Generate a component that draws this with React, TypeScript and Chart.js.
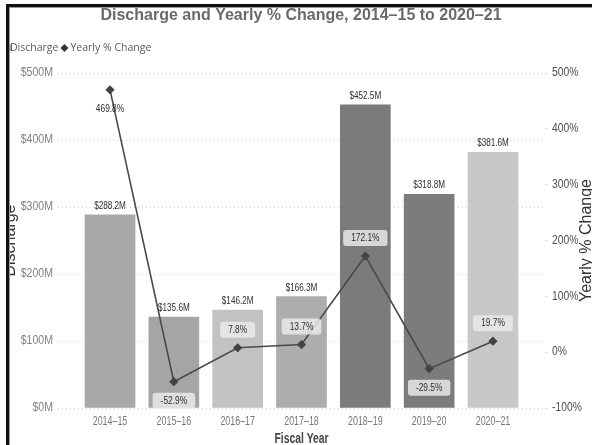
import React, { useEffect, useRef } from "react";
import { Chart, registerables } from "chart.js";

Chart.register(...registerables);

const categories = ["2014–15", "2015–16", "2016–17", "2017–18", "2018–19", "2019–20", "2020–21"];
const discharge = [288.2, 135.6, 146.2, 166.3, 452.5, 318.8, 381.6];
const yearlyChange = [469.8, -52.9, 7.8, 13.7, 172.1, -29.5, 19.7];
const barColors = ["#a9a9a9", "#a5a5a5", "#c2c2c2", "#adadad", "#7b7b7b", "#7c7c7c", "#c8c8c8"];
const leftTicks = [0, 100, 200, 300, 400, 500];
const rightTicks = [-100, 0, 100, 200, 300, 400, 500];

const SANS = '"Liberation Sans", Arial, sans-serif';

function roundRect(ctx: CanvasRenderingContext2D, x: number, y: number, w: number, h: number, r: number) {
  ctx.beginPath();
  ctx.moveTo(x + r, y);
  ctx.lineTo(x + w - r, y);
  ctx.quadraticCurveTo(x + w, y, x + w, y + r);
  ctx.lineTo(x + w, y + h - r);
  ctx.quadraticCurveTo(x + w, y + h, x + w - r, y + h);
  ctx.lineTo(x + r, y + h);
  ctx.quadraticCurveTo(x, y + h, x, y + h - r);
  ctx.lineTo(x, y + r);
  ctx.quadraticCurveTo(x, y, x + r, y);
  ctx.closePath();
}

function narrowText(ctx: CanvasRenderingContext2D, text: string, x: number, y: number, align: CanvasTextAlign, sx: number) {
  ctx.save();
  ctx.translate(x, y);
  ctx.scale(sx, 1);
  ctx.textAlign = align;
  ctx.textBaseline = "middle";
  ctx.fillText(text, 0, 0);
  ctx.restore();
}

const decorPlugin = {
  id: "decor",
  afterDatasetsDraw(chart: any) {
    const ctx: CanvasRenderingContext2D = chart.ctx;
    const barMeta = chart.getDatasetMeta(0);
    const lineMeta = chart.getDatasetMeta(1);
    ctx.save();
    ctx.font = `11px ${SANS}`;
    ctx.fillStyle = "#2e2e2e";
    barMeta.data.forEach((el: any, i: number) => {
      narrowText(ctx, `$${discharge[i].toFixed(1)}M`, el.x, el.y - 9, "center", 0.74);
    });
    lineMeta.data.forEach((pt: any, i: number) => {
      const v = yearlyChange[i];
      const below = v < 0 || pt.y < chart.chartArea.top + 40;
      const ly = below ? pt.y + 19 : pt.y - 18;
      const txt = `${v.toFixed(1)}%`;
      const barTop = barMeta.data[i].y;
      if (ly > barTop) {
        const w = ctx.measureText(txt).width * 0.76 + 16;
        ctx.fillStyle = "rgba(236,236,236,0.82)";
        roundRect(ctx, pt.x - w / 2, ly - 8, w, 16, 3);
        ctx.fill();
      }
      ctx.fillStyle = "#2e2e2e";
      narrowText(ctx, txt, pt.x, ly, "center", 0.76);
    });
    ctx.restore();
  },
  afterDraw(chart: any) {
    const ctx: CanvasRenderingContext2D = chart.ctx;
    const ca = chart.chartArea;
    const midY = (ca.top + ca.bottom) / 2;
    const xS = chart.scales.x;
    const yS = chart.scales.y;
    const y1S = chart.scales.y1;
    ctx.save();
    // tick labels
    ctx.font = `12px ${SANS}`;
    ctx.fillStyle = "#777";
    categories.forEach((c, i) => {
      narrowText(ctx, c, xS.getPixelForValue(i), xS.top + 14, "center", 0.74);
    });
    ctx.fillStyle = "#808080";
    leftTicks.forEach((v) => {
      narrowText(ctx, `$${v}M`, yS.right - 5, yS.getPixelForValue(v), "right", 0.88);
    });
    ctx.fillStyle = "#4d4d4d";
    rightTicks.forEach((v) => {
      narrowText(ctx, `${v}%`, y1S.left + 7, y1S.getPixelForValue(v), "left", 0.86);
    });
    // title
    ctx.font = `bold 16px ${SANS}`;
    ctx.fillStyle = "#6a6a6a";
    ctx.textAlign = "center";
    ctx.textBaseline = "middle";
    ctx.fillText("Discharge and Yearly % Change, 2014–15 to 2020–21", 301, 16);
    // legend
    ctx.font = `10.5px "Open Sans", sans-serif`;
    ctx.textAlign = "left";
    ctx.beginPath();
    ctx.arc(8, 48, 4, 0, Math.PI * 2);
    ctx.fillStyle = "#9a9a9a";
    ctx.fill();
    ctx.fillStyle = "#5a5a5a";
    ctx.fillText("Discharge", 10, 48);
    const dx = 10 + ctx.measureText("Discharge").width + 6;
    ctx.beginPath();
    ctx.moveTo(dx, 44);
    ctx.lineTo(dx + 4, 48);
    ctx.lineTo(dx, 52);
    ctx.lineTo(dx - 4, 48);
    ctx.closePath();
    ctx.fillStyle = "#333";
    ctx.fill();
    ctx.fillStyle = "#5a5a5a";
    ctx.fillText("Yearly % Change", dx + 6, 48);
    // x axis title
    ctx.font = `bold 14px ${SANS}`;
    ctx.fillStyle = "#444";
    narrowText(ctx, "Fiscal Year", (ca.left + ca.right) / 2, 439, "center", 0.74);
    // left axis title
    ctx.font = `16px ${SANS}`;
    ctx.fillStyle = "#333";
    ctx.textAlign = "center";
    ctx.save();
    ctx.translate(11, midY);
    ctx.rotate(-Math.PI / 2);
    ctx.fillText("Discharge", 0, 0);
    ctx.restore();
    // right axis title
    ctx.save();
    ctx.translate(587, midY);
    ctx.rotate(-Math.PI / 2);
    ctx.fillText("Yearly % Change", 0, 0);
    ctx.restore();
    // frame
    ctx.fillStyle = "#ffffff";
    ctx.fillRect(0, 0, 6, chart.height);
    ctx.fillRect(0, 0, chart.width, 4);
    ctx.fillStyle = "#111";
    ctx.fillRect(6, 4, 3, chart.height - 4);
    ctx.fillRect(6, 4, chart.width - 6, 3);
    ctx.fillStyle = "#9a9a9a";
    ctx.fillRect(9, 7, 1, chart.height - 7);
    ctx.fillRect(9, 7, chart.width - 9, 1);
    ctx.restore();
  },
};

export default function App() {
  const ref = useRef<HTMLCanvasElement>(null);
  useEffect(() => {
    document.body.style.margin = "0";
    const chart = new Chart(ref.current!, {
      type: "bar",
      data: {
        datasets: [
          {
            type: "bar",
            label: "Discharge",
            data: discharge.map((v, i) => ({ x: i, y: v })),
            backgroundColor: barColors,
            barThickness: 50,
            yAxisID: "y",
            order: 1,
          },
          {
            type: "line",
            label: "Yearly % Change",
            data: yearlyChange.map((v, i) => ({ x: i, y: v })),
            borderColor: "#4a4a4a",
            borderWidth: 1.6,
            pointStyle: "rectRot",
            pointRadius: 3.5,
            pointBackgroundColor: "#444",
            pointBorderColor: "#444",
            yAxisID: "y1",
            order: 0,
          },
        ] as any,
      },
      plugins: [decorPlugin],
      options: {
        responsive: false,
        animation: false,
        events: [],
        layout: { padding: { top: 73, left: 0, right: 0, bottom: 0 } },
        plugins: { legend: { display: false }, tooltip: { enabled: false }, title: { display: false } },
        scales: {
          x: {
            type: "linear",
            offset: false,
            min: -0.815,
            max: 6.815,
            afterFit: (s: any) => { s.height = 37; },
            grid: { display: false, drawTicks: false },
            border: { display: false },
            ticks: { display: false, stepSize: 1, includeBounds: false },
          },
          y: {
            position: "left",
            min: 0,
            max: 500,
            afterFit: (s: any) => { s.width = 58; },
            afterBuildTicks: (s: any) => { s.ticks = leftTicks.map((v) => ({ value: v })); },
            grid: { color: "#cfcfcf", drawTicks: false, lineWidth: 1 },
            border: { display: false, dash: [1, 3] },
            ticks: { display: false },
          },
          y1: {
            position: "right",
            min: -100,
            max: 500,
            afterFit: (s: any) => { s.width = 47; },
            afterBuildTicks: (s: any) => { s.ticks = rightTicks.map((v) => ({ value: v })); },
            grid: { drawOnChartArea: false, drawTicks: true, tickLength: 3, color: "#dddddd" },
            border: { display: false },
            ticks: { display: false },
          },
        },
      } as any,
    });
    return () => chart.destroy();
  }, []);
  return (
    <div style={{ width: 592, height: 445 }}>
      <canvas ref={ref} width={592} height={445} />
    </div>
  );
}
